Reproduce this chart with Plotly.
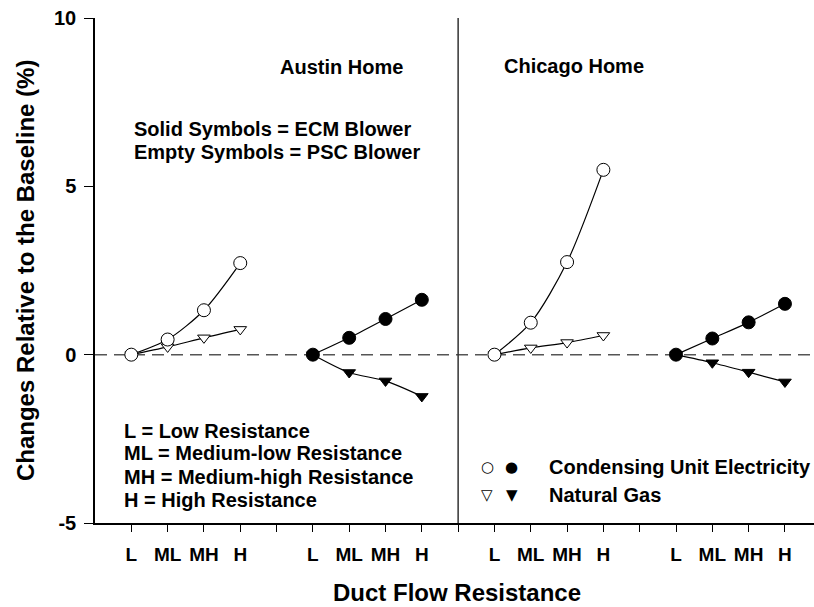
import plotly.graph_objects as go

# ---- data ----
res_labels = ["L", "ML", "MH", "H"]
austin_psc_x = [1, 2, 3, 4]
austin_ecm_x = [6, 7, 8, 9]
chicago_psc_x = [11, 12, 13, 14]
chicago_ecm_x = [16, 17, 18, 19]

austin_psc_elec = [0.0, 0.45, 1.32, 2.72]
austin_psc_gas = [0.0, 0.23, 0.50, 0.75]
austin_ecm_elec = [0.0, 0.50, 1.06, 1.63]
austin_ecm_gas = [0.0, -0.53, -0.78, -1.24]
chicago_psc_elec = [0.0, 0.95, 2.75, 5.49]
chicago_psc_gas = [0.0, 0.20, 0.36, 0.57]
chicago_ecm_elec = [0.0, 0.48, 0.96, 1.51]
chicago_ecm_gas = [0.0, -0.24, -0.52, -0.81]

y_ticks = [-5, 0, 5, 10]
y_ticktext = ["-5", "0", "5", "10"]
x_tickvals = list(range(1, 20))
x_ticktext = []
for v in x_tickvals:
    m = v % 5
    x_ticktext.append(res_labels[m - 1] if m != 0 else "")

FONT = "Liberation Sans, Arial, sans-serif"

fig = go.Figure()

def add_series(x, y, filled, symbol):
    fig.add_trace(go.Scatter(
        x=x, y=y, mode="lines+markers",
        line=dict(color="black", width=1.2, shape="spline", smoothing=0.8),
        marker=dict(symbol=symbol, size=13 if symbol == "circle" else 11,
                    color="black" if filled else "white",
                    line=dict(color="black", width=1)),
        showlegend=False, hoverinfo="skip"))

# draw gas first then electricity
add_series(austin_psc_x, austin_psc_gas, False, "triangle-down")
add_series(austin_psc_x, austin_psc_elec, False, "circle")
add_series(austin_ecm_x, austin_ecm_gas, True, "triangle-down")
add_series(austin_ecm_x, austin_ecm_elec, True, "circle")
add_series(chicago_psc_x, chicago_psc_gas, False, "triangle-down")
add_series(chicago_psc_x, chicago_psc_elec, False, "circle")
add_series(chicago_ecm_x, chicago_ecm_gas, True, "triangle-down")
add_series(chicago_ecm_x, chicago_ecm_elec, True, "circle")

shapes = [
    dict(type="line", xref="x", yref="y", x0=0, x1=19.8, y0=0, y1=0,
         line=dict(color="#555555", width=1.5, dash="12px,7px"), layer="below"),
    dict(type="line", xref="x", yref="y", x0=10, x1=10, y0=-5, y1=10,
         line=dict(color="#333333", width=1.5)),
]

def txt(x, y, s, size=20, xanchor="left"):
    return dict(x=x, y=y, xref="x", yref="y", text=s, showarrow=False,
                xanchor=xanchor, yanchor="middle",
                font=dict(family=FONT, size=size, color="black", weight="bold"))

def glyph(x, y, s):
    return dict(x=x, y=y, xref="x", yref="y", text=s, showarrow=False,
                xanchor="center", yanchor="middle",
                font=dict(family="DejaVu Sans", size=15, color="black"))

annotations = [
    txt(6.78, 8.54, "Austin Home", xanchor="center"),
    txt(13.2, 8.56, "Chicago Home", xanchor="center"),
    txt(1.03, 6.69, "Solid Symbols = ECM Blower"),
    txt(1.03, 6.03, "Empty Symbols = PSC Blower"),
    txt(0.75, -2.27, "L = Low Resistance"),
    txt(0.75, -2.93, "ML = Medium-low Resistance"),
    txt(0.75, -3.63, "MH = Medium-high Resistance"),
    txt(0.75, -4.33, "H = High Resistance"),
    txt(12.46, -3.35, "Condensing Unit Electricity"),
    txt(12.46, -4.18, "Natural Gas"),
    glyph(10.8, -3.35, "○"), glyph(11.48, -3.35, "●"),
    glyph(10.8, -4.18, "▽"), glyph(11.48, -4.18, "▼"),
    dict(x=-0.0966, y=0.5, xref="paper", yref="paper", textangle=-90,
         text="Changes Relative to the Baseline (%)", showarrow=False,
         xanchor="center", yanchor="middle",
         font=dict(family=FONT, size=24, color="black", weight="bold")),
    dict(x=0.504, y=-0.1376, xref="paper", yref="paper",
         text="Duct Flow Resistance", showarrow=False,
         xanchor="center", yanchor="middle",
         font=dict(family=FONT, size=24, color="black", weight="bold")),
]

fig.update_layout(
    width=814, height=607,
    margin=dict(l=94.5, r=0, t=17.5, b=84.3),
    plot_bgcolor="white", paper_bgcolor="white",
    shapes=shapes, annotations=annotations,
    xaxis=dict(range=[0, 19.8], tickvals=x_tickvals, ticktext=x_ticktext,
               ticks="outside", ticklen=7, tickcolor="black", tickwidth=1.2,
               showline=True, linecolor="black", linewidth=1.5,
               showgrid=False, zeroline=False, ticklabelstandoff=6,
               tickfont=dict(family=FONT, size=19, color="black", weight="bold")),
    yaxis=dict(range=[-5, 10], tickvals=y_ticks, ticktext=y_ticktext,
               ticks="outside", ticklen=9, tickcolor="black", tickwidth=1.2,
               showline=True, linecolor="black", linewidth=1.5,
               showgrid=False, zeroline=False, ticklabelstandoff=4,
               tickfont=dict(family=FONT, size=20, color="black", weight="bold")),
)

fig.write_html("out.html")
